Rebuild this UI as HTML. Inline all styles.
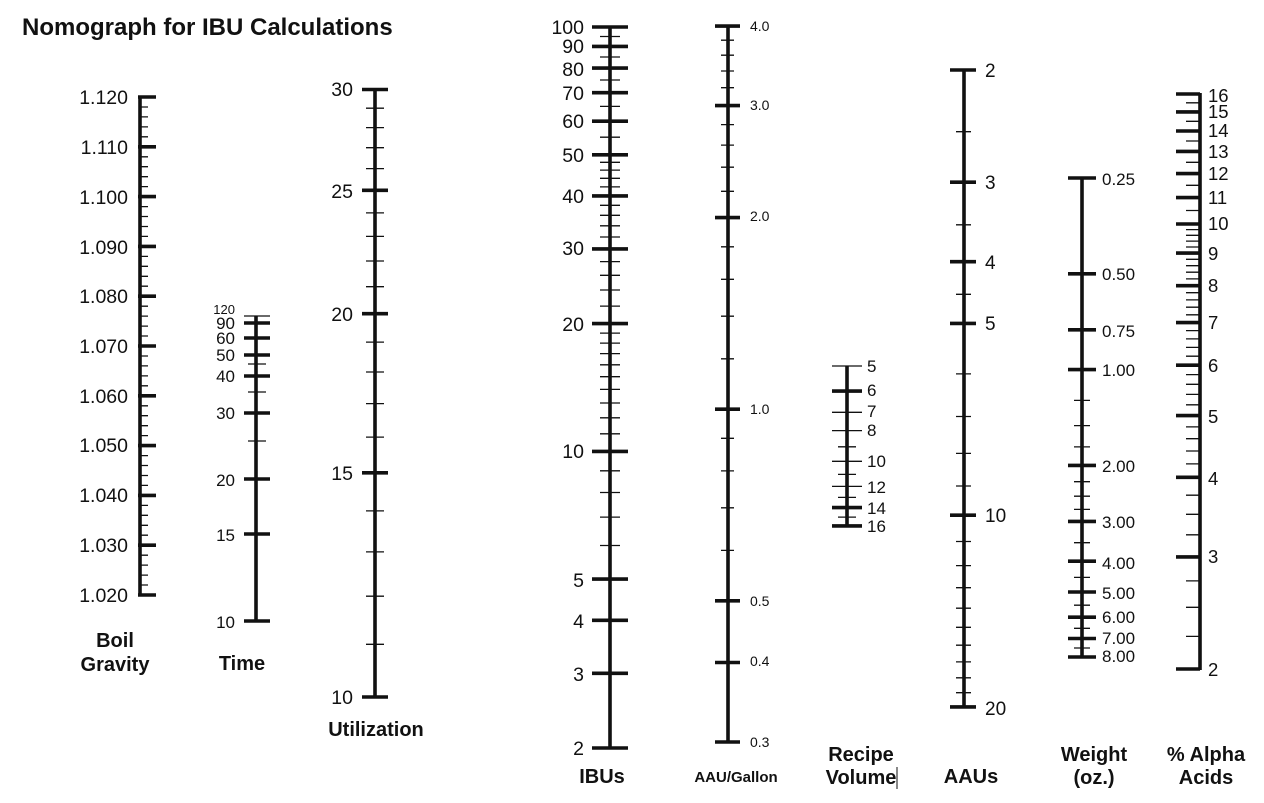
<!DOCTYPE html>
<html><head><meta charset="utf-8"><style>
html,body{margin:0;padding:0;background:#fff;}
svg{display:block;}
text{font-family:"Liberation Sans",sans-serif;fill:#111;}
.t{font-weight:bold;font-size:20px;text-anchor:middle;}
</style></head><body>
<svg id="s" width="1264" height="803" viewBox="0 0 1264 803">
<text x="22" y="35" style="font-weight:bold;font-size:24px">Nomograph for IBU Calculations</text>
<g id="g" stroke="#111" fill="none"></g>
<g style="font-size:19.5px" text-anchor="end">
<text x="128" y="104">1.120</text><text x="128" y="154">1.110</text><text x="128" y="204">1.100</text><text x="128" y="254">1.090</text><text x="128" y="303">1.080</text><text x="128" y="353">1.070</text><text x="128" y="403">1.060</text><text x="128" y="452">1.050</text><text x="128" y="502">1.040</text><text x="128" y="552">1.030</text><text x="128" y="602">1.020</text>
<text x="235" y="314" style="font-size:13px">120</text><text x="235" y="329" style="font-size:17px">90</text><text x="235" y="344" style="font-size:17px">60</text><text x="235" y="361" style="font-size:17px">50</text><text x="235" y="382" style="font-size:17px">40</text><text x="235" y="419" style="font-size:17px">30</text><text x="235" y="486" style="font-size:17px">20</text><text x="235" y="541" style="font-size:17px">15</text><text x="235" y="628" style="font-size:17px">10</text>
<text x="353" y="96">30</text><text x="353" y="198">25</text><text x="353" y="321">20</text><text x="353" y="480">15</text><text x="353" y="704">10</text>
<text x="584" y="34">100</text><text x="584" y="53">90</text><text x="584" y="76">80</text><text x="584" y="100">70</text><text x="584" y="128">60</text><text x="584" y="162">50</text><text x="584" y="203">40</text><text x="584" y="255">30</text><text x="584" y="331">20</text><text x="584" y="458">10</text><text x="584" y="587">5</text><text x="584" y="628">4</text><text x="584" y="681">3</text><text x="584" y="755">2</text>
</g>
<g style="font-size:14px">
<text x="750" y="31">4.0</text><text x="750" y="110">3.0</text><text x="750" y="221">2.0</text><text x="750" y="414">1.0</text><text x="750" y="606">0.5</text><text x="750" y="666">0.4</text><text x="750" y="747">0.3</text>
</g>
<g style="font-size:17px">
<text x="867" y="372">5</text><text x="867" y="396">6</text><text x="867" y="417">7</text><text x="867" y="436">8</text><text x="867" y="467">10</text><text x="867" y="493">12</text><text x="867" y="514">14</text><text x="867" y="532">16</text>
<text x="985" y="77" style="font-size:19px">2</text><text x="985" y="189" style="font-size:19px">3</text><text x="985" y="269" style="font-size:19px">4</text><text x="985" y="330" style="font-size:19px">5</text><text x="985" y="522" style="font-size:19px">10</text><text x="985" y="715" style="font-size:19px">20</text>
<text x="1102" y="185">0.25</text><text x="1102" y="280">0.50</text><text x="1102" y="337">0.75</text><text x="1102" y="376">1.00</text><text x="1102" y="472">2.00</text><text x="1102" y="528">3.00</text><text x="1102" y="569">4.00</text><text x="1102" y="599">5.00</text><text x="1102" y="623">6.00</text><text x="1102" y="644">7.00</text><text x="1102" y="662">8.00</text>
</g>
<g style="font-size:18.5px">
<text x="1208" y="102">16</text><text x="1208" y="118">15</text><text x="1208" y="137">14</text><text x="1208" y="158">13</text><text x="1208" y="180">12</text><text x="1208" y="204">11</text><text x="1208" y="230">10</text><text x="1208" y="260">9</text><text x="1208" y="292">8</text><text x="1208" y="329">7</text><text x="1208" y="372">6</text><text x="1208" y="423">5</text><text x="1208" y="485">4</text><text x="1208" y="563">3</text><text x="1208" y="676">2</text>
</g>
<text class="t" x="115" y="647">Boil</text><text class="t" x="115" y="671">Gravity</text>
<text class="t" x="242" y="670">Time</text>
<text class="t" x="376" y="736">Utilization</text>
<text class="t" x="602" y="783">IBUs</text>
<text class="t" x="736" y="782" style="font-size:15px">AAU/Gallon</text>
<text class="t" x="861" y="761">Recipe</text><text class="t" x="861" y="784">Volume</text>
<line x1="897" y1="767" x2="897" y2="789" stroke="#111" stroke-width="1"/>
<text class="t" x="971" y="783">AAUs</text>
<text class="t" x="1094" y="761">Weight</text><text class="t" x="1094" y="784">(oz.)</text>
<text class="t" x="1206" y="761">% Alpha</text><text class="t" x="1206" y="784">Acids</text>
</svg>
<script>
var g=document.getElementById('g'),d3='',d1='';
function L(x1,y1,x2,y2,w){var s='M'+x1+' '+y1.toFixed(1)+'H'+x2;if(w==3)d3+=s;else d1+=s;}
function V(x,a,b){d3+='M'+x+' '+a+'V'+b;}
V(140,96,596);for(var i=0;i<=50;i++){var y=97+i*9.96;if(i%5==0)L(138,y,156,y,3);else L(140,y,148,y,1);}
V(256,316,622);L(244,316,270,316,1);
[[323,90],[338,60],[355,50],[376,40],[413,30],[479,20],[534,15],[621,10]].forEach(function(p){L(244,p[0],270,p[0],3);});
[364,392,441].forEach(function(y){L(248,y,266,y,1);});
V(375,88,698);function U(u){return 697-553*Math.log(u/10);}
for(var u=10;u<=30;u++){var y=U(u);if(u%5==0)L(362,y,388,y,3);else L(366,y,384,y,1);}
V(610,26,749);function I(v){return 748-184.3*Math.log(v/2);}
[2,3,4,5,10,20,30,40,50,60,70,80,90,100].forEach(function(v){L(592,I(v),628,I(v),3);});
[6,7,8,9,11,12,13,14,15,16,17,18,19,22,24,26,28,32,34,36,38,42,44,46,48,55,65,75,85,95].forEach(function(v){L(600,I(v),620,I(v),1);});
V(728,25,743);function A(v){return 742-276.4*Math.log(v/0.3);}
[4,3,2,1,0.5,0.4,0.3].forEach(function(v){L(715,A(v),740,A(v),3);});
[3.8,3.6,3.4,3.2,2.8,2.6,2.4,2.2,1.8,1.6,1.4,1.2,0.9,0.8,0.7,0.6].forEach(function(v){L(721,A(v),734,A(v),1);});
V(847,366,527);function R(v){return 366+137.5*Math.log(v/5);}
[5,6,7,8,10,12,14,16].forEach(function(v){L(832,R(v),862,R(v),(v==6||v==14||v==16)?3:1.6);});
[9,11,13,15].forEach(function(v){L(838,R(v),856,R(v),1);});
V(964,69,708);function B(v){return 70+276.6*Math.log(v/2);}
[2,3,4,5,10,20].forEach(function(v){L(950,B(v),976,B(v),3);});
[2.5,3.5,4.5,6,7,8,9,11,12,13,14,15,16,17,18,19].forEach(function(v){L(956,B(v),971,B(v),1);});
V(1082,177,658);function W(v){return 178+138.2*Math.log(v/0.25);}
[0.25,0.5,0.75,1,2,3,4,5,6,7,8].forEach(function(v){L(1068,W(v),1096,W(v),3);});
[1.25,1.5,1.75,2.25,2.5,2.75,3.5,4.5,5.5,6.5,7.5].forEach(function(v){L(1074,W(v),1090,W(v),1);});
V(1200,93,670);function P(v){return 669-276.5*Math.log(v/2);}
for(var v=2;v<=16;v++)L(1176,P(v),1200,P(v),3);
for(var v=2.25;v<4;v+=0.25)if(v%1)L(1186,P(v),1200,P(v),1);
for(var v=4.2;v<10;v+=0.2)if(Math.abs(v-Math.round(v))>0.05)L(1186,P(v),1200,P(v),1);
for(var v=10.5;v<16;v+=1)L(1186,P(v),1200,P(v),1);
L(1176,669,1200,669,1.6);
var p1=document.createElementNS('http://www.w3.org/2000/svg','path');p1.setAttribute('d',d1);p1.setAttribute('stroke-width','1.3');g.appendChild(p1);
var p3=document.createElementNS('http://www.w3.org/2000/svg','path');p3.setAttribute('d',d3);p3.setAttribute('stroke-width','3.6');g.appendChild(p3);
</script>
</body></html>
